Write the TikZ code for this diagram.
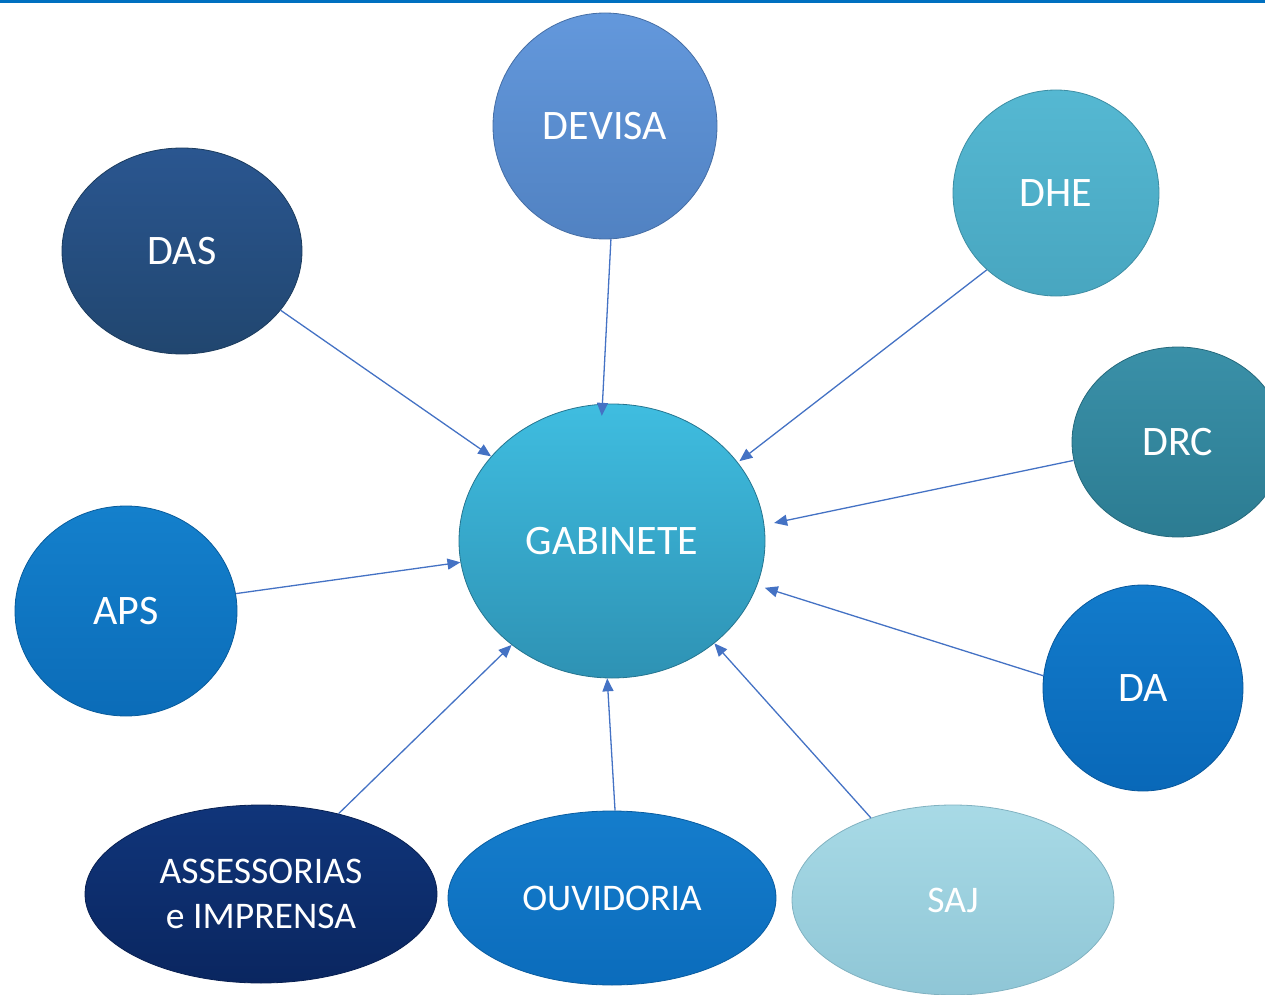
\documentclass[tikz,border=0pt]{standalone}
\usepackage{fontspec}
\setmainfont{Carlito}
\usetikzlibrary{shapes,arrows.meta}
\definecolor{linkblue}{HTML}{4472C4}
\definecolor{topblue}{HTML}{0070C0}
\definecolor{gabtop}{HTML}{3FBDE0}
\definecolor{gabbot}{HTML}{2E92B4}
\definecolor{devtop}{HTML}{6398DC}
\definecolor{devbot}{HTML}{5182C2}
\definecolor{dastop}{HTML}{2A5690}
\definecolor{dasbot}{HTML}{21466F}
\definecolor{dhetop}{HTML}{55B8D2}
\definecolor{dhebot}{HTML}{48A6C0}
\definecolor{drctop}{HTML}{3A90A8}
\definecolor{drcbot}{HTML}{2C7C92}
\definecolor{apstop}{HTML}{1480CC}
\definecolor{apsbot}{HTML}{0B6CB8}
\definecolor{datop}{HTML}{127BCB}
\definecolor{dabot}{HTML}{0968B8}
\definecolor{asstop}{HTML}{10357A}
\definecolor{assbot}{HTML}{0A2660}
\definecolor{ouvtop}{HTML}{157DCC}
\definecolor{ouvbot}{HTML}{0B6CBC}
\definecolor{sajtop}{HTML}{A8DAE6}
\definecolor{sajbot}{HTML}{8FC6D6}
\tikzstyle{bubble} = [ellipse, draw, inner sep=0pt, text=white, align=center,
    font=\fontsize{21}{24}\selectfont]
\tikzstyle{bubblesm} = [bubble, font=\fontsize{18.8}{22.5}\selectfont]
\tikzstyle{link} = [-{Triangle[length=6.5pt,width=5.5pt]}, draw=linkblue,
    line width=0.65pt]

\begin{document}
\begin{tikzpicture}[x=0.5pt, y=-0.5pt]
  \useasboundingbox (0,0) rectangle (1265,995);
  \fill [topblue] (0,0) rectangle (1265,3);
  \node [bubble, top color=gabtop, bottom color=gabbot, draw=gabbot!80!black,
    minimum width=153pt, minimum height=137pt] (gab) at (612,541) {GABINETE};
  \node [bubble, top color=devtop, bottom color=devbot, draw=devbot!85!black,
    minimum width=112pt, minimum height=113pt] (devisa) at (605,126) {DEVISA};
  \node [bubble, top color=dastop, bottom color=dasbot, draw=dasbot!85!black,
    minimum width=120pt, minimum height=103pt] (das) at (182,251) {DAS};
  \node [bubble, top color=dhetop, bottom color=dhebot, draw=dhebot!85!black,
    minimum width=103pt, minimum height=103pt] (dhe) at (1056,193) {DHE};
  \node [bubble, top color=drctop, bottom color=drcbot, draw=drcbot!85!black,
    minimum width=106pt, minimum height=95pt] (drc) at (1178,442) {DRC};
  \node [bubble, top color=apstop, bottom color=apsbot, draw=apsbot!85!black,
    minimum width=111pt, minimum height=105pt] (aps) at (126,611) {APS};
  \node [bubble, top color=datop, bottom color=dabot, draw=dabot!85!black,
    minimum width=100pt, minimum height=103pt] (da) at (1143,688) {DA};
  \node [bubblesm, top color=asstop, bottom color=assbot, draw=assbot!85!black,
    minimum width=176pt, minimum height=89pt] (assess) at (261,894)
    {ASSESSORIAS\\e IMPRENSA};
  \node [bubblesm, top color=ouvtop, bottom color=ouvbot, draw=ouvbot!85!black,
    minimum width=164pt, minimum height=87pt] (ouv) at (612,898) {OUVIDORIA};
  \node [bubblesm, top color=sajtop, bottom color=sajbot, draw=sajbot!90!black,
    minimum width=161pt, minimum height=95pt] (saj) at (953,900) {SAJ};
  % ligacoes ao gabinete
  \draw [link, shorten >=-6pt] (devisa.-87) -- (gab.94);
  \draw [link] (das.-31) -- (gab.145);
  \draw [link, shorten >=1pt] (dhe.-132) -- (gab.32);
  \draw [link, shorten >=5pt] (drc.-170) -- (gab.6);
  \draw [link] (aps.9) -- (gab.188);
  \draw [link, shorten >=4pt] (da.173) -- (gab.-17);
  \draw [link] (assess.46) -- (gab.226);
  \draw [link] (ouv.88) -- (gab.-92);
  \draw [link] (saj.135) -- (gab.-45);
\end{tikzpicture}
\end{document}
